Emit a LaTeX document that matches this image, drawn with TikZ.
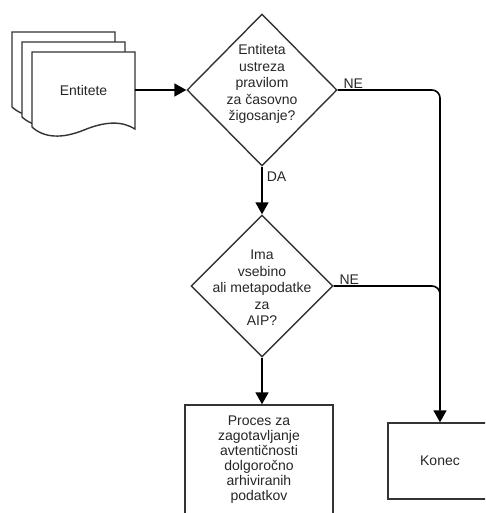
\documentclass[tikz,border=0pt]{standalone}
\usepackage{fontspec}
\setmainfont{Liberation Sans}
\usetikzlibrary{shapes.geometric,arrows.meta}

\begin{document}
\begin{tikzpicture}[x=1pt,y=-1pt,
        font=\fontsize{14}{16.5}\selectfont,
        text=black!85,
        box/.style={shape=rectangle,draw=black!80,line width=1.4pt,fill=white,align=center},
        decision/.style={shape=diamond,draw=black!80,line width=1.4pt,inner sep=0pt},
        sheet/.style={draw=black!80,line width=1.4pt,fill=white},
        flow/.style={draw=black,line width=1.6pt,-{Triangle[length=12pt,width=13pt]}},
        lbl/.style={inner sep=1pt}]

        \useasboundingbox (0,0) rectangle (485,513);
        \clip (0,0) rectangle (485,513);

        % stack of documents
        \draw[sheet,shift={(-20,-20)}] (32,52) -- (135,52) -- (135,129) .. controls (122,121) and (106,121) .. (84,130) .. controls (62,139) and (44,138) .. (32,127) -- cycle;
        \draw[sheet,shift={(-10,-10)}] (32,52) -- (135,52) -- (135,129) .. controls (122,121) and (106,121) .. (84,130) .. controls (62,139) and (44,138) .. (32,127) -- cycle;
        \draw[sheet] (32,52) -- (135,52) -- (135,129) .. controls (122,121) and (106,121) .. (84,130) .. controls (62,139) and (44,138) .. (32,127) -- cycle;

        \node[minimum width=103pt,minimum height=76pt] (ent) at (83.5,90) {Entitete};

        \node[decision,minimum width=150pt,minimum height=152pt] (q1) at (262,90) {};
        \node[align=center] (q1t) at (262,84) {Entiteta\\ustreza\\pravilom\\za časovno\\žigosanje?};

        \node[decision,minimum width=142pt,minimum height=142pt] (q2) at (262,286) {};
        \node[align=center] (q2t) at (262,288) {Ima\\vsebino\\ali metapodatke\\za\\AIP?};

        \node[box,minimum width=148pt,minimum height=110pt,font=\fontsize{14}{15}\selectfont] (proc) at (259,460) {Proces za\\zagotavljanje\\avtentičnosti\\dolgoročno\\arhiviranih\\podatkov};
        \node[box,minimum width=104pt,minimum height=76pt] (konec) at (440,461) {Konec};

        \path[flow] (ent.east) -- (q1.west);
        \path[flow] (q1.south) -- (q2.north) node[pos=0.22,right,lbl,xshift=3pt] (da) {DA};
        \path[flow,rounded corners=8pt] (q1.east) -| (konec.north) node[pos=0,above right,lbl,xshift=4pt] (ne1) {NE};
        \path[draw=black,line width=1.6pt,rounded corners=8pt,shorten >=30pt] (q2.east) -| (konec.north) node[pos=0,above right,lbl,xshift=4pt] (ne2) {NE};
        \path[flow] (q2.south) -- (q2.south |- proc.north);

\end{tikzpicture}
\end{document}
